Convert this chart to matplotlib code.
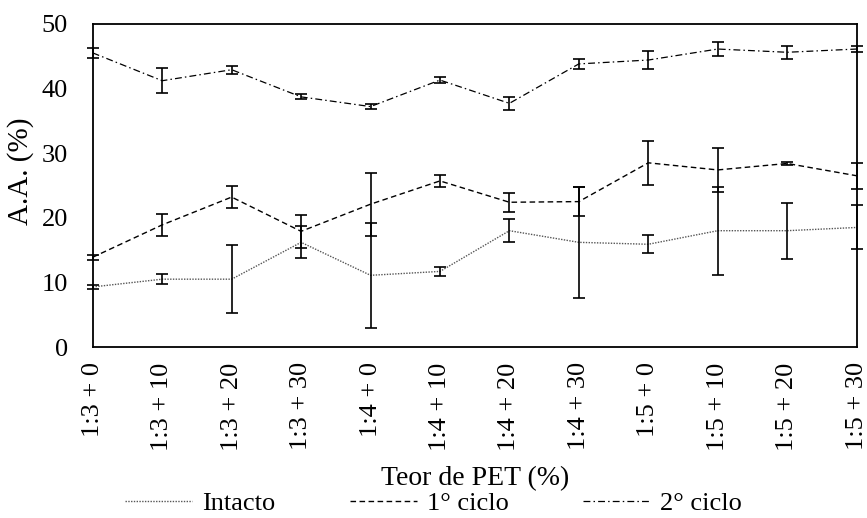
import matplotlib
matplotlib.use("Agg")
import matplotlib.pyplot as plt
import numpy as np

categories = ["1:3 + 0", "1:3 + 10", "1:3 + 20", "1:3 + 30",
              "1:4 + 0", "1:4 + 10", "1:4 + 20", "1:4 + 30",
              "1:5 + 0", "1:5 + 10", "1:5 + 20", "1:5 + 30"]

intacto = [9.3, 10.5, 10.5, 16.2, 11.1, 11.7, 18.0, 16.2, 15.9, 18.0, 18.0, 18.5]
intacto_err = [0.3, 0.8, 5.3, 2.5, 8.1, 0.7, 1.8, 8.6, 1.4, 6.8, 4.35, 3.4]

ciclo1 = [13.9, 18.9, 23.2, 17.9, 22.1, 25.7, 22.4, 22.5, 28.5, 27.4, 28.4, 26.5]
ciclo1_err = [0.4, 1.7, 1.7, 2.6, 4.9, 0.9, 1.5, 2.2, 3.4, 3.4, 0.3, 2.0]

ciclo2 = [45.5, 41.2, 42.9, 38.7, 37.2, 41.3, 37.7, 43.8, 44.4, 46.1, 45.6, 46.1]
ciclo2_err = [0.8, 1.9, 0.6, 0.4, 0.4, 0.5, 1.0, 0.8, 1.4, 1.1, 1.0, 0.4]

plt.rcParams['font.family'] = ['Liberation Serif', 'DejaVu Serif']
plt.rcParams['font.size'] = 19

fig = plt.figure(figsize=(8.67, 5.18), dpi=100)
ax = fig.add_axes([0.107, 0.330, 0.881, 0.624])

x = np.arange(len(categories))

series = [
    (intacto, intacto_err, "Intacto", (0, (1, 1)), "#555555", 1.0),
    (ciclo1, ciclo1_err, "1° ciclo", (0, (4, 2.5)), "black", 1.0),
    (ciclo2, ciclo2_err, "2° ciclo", (0, (5.5, 2.5, 1.2, 2.5)), "black", 0.9),
]

for vals, errs, label, ls, col, lw in series:
    ax.plot(x, vals, linestyle=ls, color=col, linewidth=lw, label=label, clip_on=False)
    eb = ax.errorbar(x, vals, yerr=errs, fmt='none', ecolor='black',
                     elinewidth=1.2, capsize=4.3, capthick=1.2)
    for art in eb.get_children():
        art.set_clip_on(False)

ax.set_xlim(0, len(categories) - 1)
ax.set_ylim(0, 50)
ax.set_yticks([0, 10, 20, 30, 40, 50])
ax.set_xticks(x)
ax.set_xticklabels(categories, rotation=90)
ax.tick_params(axis='x', length=0, pad=11, labelsize=19)
ax.tick_params(axis='y', length=0, pad=18, labelsize=19)
for s in ax.spines.values():
    s.set_linewidth(1.3)
    s.set_color('black')

ax.set_ylabel("A.A. (%)", fontsize=21)
ax.yaxis.set_label_coords(-0.077, 0.545)
ax.set_xlabel("Teor de PET (%)", fontsize=20, labelpad=11)

leg = fig.legend(loc='lower center', bbox_to_anchor=(0.5, -0.04), ncol=3,
                 frameon=False, fontsize=19, handlelength=2.55,
                 columnspacing=2.8, handletextpad=0.38)

fig.savefig("out.png", dpi=100)
